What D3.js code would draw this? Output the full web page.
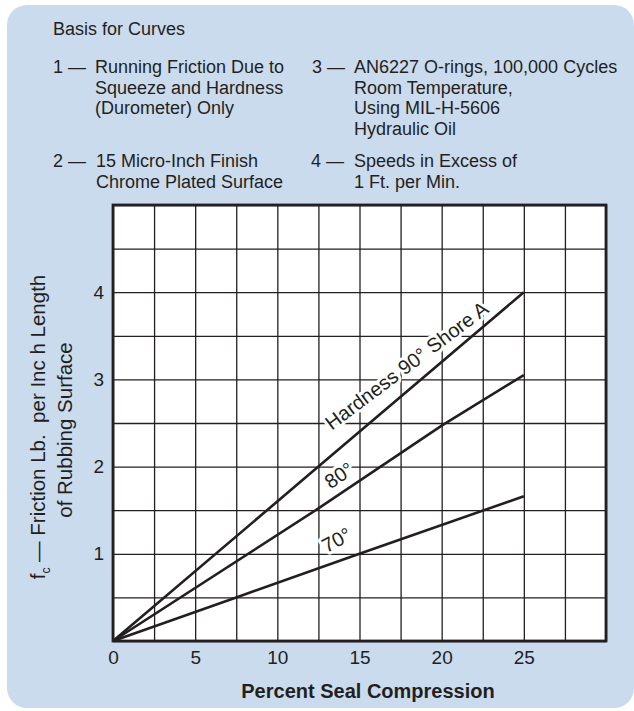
<!DOCTYPE html>
<html lang="en">
<head>
  <meta charset="UTF-8">
  <script src="https://d3js.org/d3.v7.min.js"></script>
  <title>Running Friction vs Percent Seal Compression</title>
  <style>
    body { margin: 0; background: #fff; }
    svg text { font-family: "Liberation Sans", Arial, sans-serif; fill: #231f20; }
  </style>
</head>
<body>
  <svg width="634" height="711"></svg>

  <script>
    // values
    const xTicks = [0, 5, 10, 15, 20, 25]
    const yTicks = [1, 2, 3, 4]
    const hardness90 = [[0, 0], [12.5, 2], [25, 4]]
    const hardness80 = [[0, 0], [12.5, 1.52], [20, 2.47], [25, 3.05]]
    const hardness70 = [[0, 0], [7.5, 0.5], [15, 1.0], [25, 1.66]]
    const curveLabels = ['Hardness 90° Shore A', '80°', '70°']

    const notesTitle = 'Basis for Curves'
    const noteNumbers = ['1 —', '3 —', '2 —', '4 —']
    const noteLines = [
      ['Running Friction Due to', 'Squeeze and Hardness', '(Durometer) Only'],
      ['AN6227 O-rings, 100,000 Cycles', 'Room Temperature,', 'Using MIL-H-5606', 'Hydraulic Oil'],
      ['15 Micro-Inch Finish', 'Chrome Plated Surface'],
      ['Speeds in Excess of', '1 Ft. per Min.']
    ]
    const xTitle = 'Percent Seal Compression'
    const yTitle1 = '— Friction Lb.  per Inc h Length'
    const yTitle2 = 'of Rubbing Surface'

    const INK = '#231f20'
    const PANEL = '#cbdbee'

    const svg = d3.select('svg')
    const plotL = 113, plotR = 606, plotT = 205, plotB = 641

    const x = d3.scaleLinear().domain([0, 30]).range([plotL, plotR])
    const y = d3.scaleLinear().domain([0, 5]).range([plotB, plotT])

    // background panel
    svg.append('rect')
      .attr('x', 7).attr('y', 5)
      .attr('width', 627).attr('height', 703)
      .attr('rx', 20)
      .attr('fill', PANEL)

    // notes block
    svg.append('text')
      .attr('x', 53).attr('y', 35)
      .style('font-size', '18px')
      .text(notesTitle)

    const notePos = [
      { nx: 53, tx: 95, y0: 73 },
      { nx: 312, tx: 354, y0: 73 },
      { nx: 53, tx: 96, y0: 167 },
      { nx: 311, tx: 354, y0: 167 }
    ]
    noteLines.forEach((lines, i) => {
      const p = notePos[i]
      svg.append('text')
        .attr('x', p.nx).attr('y', p.y0)
        .style('font-size', '18px')
        .text(noteNumbers[i])
      svg.append('text')
        .style('font-size', '18px')
        .selectAll('tspan')
        .data(lines)
        .join('tspan')
        .attr('x', p.tx)
        .attr('y', (d, j) => p.y0 + j * 20.7)
        .text(d => d)
    })

    // plot background
    svg.append('rect')
      .attr('x', plotL).attr('y', plotT)
      .attr('width', plotR - plotL).attr('height', plotB - plotT)
      .attr('fill', '#fff')

    // grid
    const xGrid = svg.append('g')
      .attr('transform', `translate(0,${plotB})`)
      .call(d3.axisBottom(x).tickValues(d3.range(0, 30.01, 2.5)).tickSize(-(plotB - plotT)).tickFormat(''))
    const yGrid = svg.append('g')
      .attr('transform', `translate(${plotL},0)`)
      .call(d3.axisLeft(y).tickValues(d3.range(0, 5.01, 0.5)).tickSize(-(plotR - plotL)).tickFormat(''))
    ;[xGrid, yGrid].forEach(g => {
      g.select('.domain').remove()
      g.selectAll('line').attr('stroke', INK).attr('stroke-width', 1.3)
    })

    const curves = [hardness90, hardness80, hardness70]

    // curve labels: white knock-out over the grid, curves drawn on top
    const labelPlace = [
      { at: 18.6, off: 13, angle: -37 },
      { at: 14.3, off: 9, angle: -34 },
      { at: 14.2, off: 14, angle: -28 }
    ]
    const along = (pts, xv) => d3.scaleLinear().domain(pts.map(d => d[0])).range(pts.map(d => d[1]))(xv)
    curveLabels.forEach((t, i) => {
      const p = labelPlace[i]
      const px = x(p.at), py = y(along(curves[i], p.at))
      svg.append('text')
        .attr('transform', `translate(${px},${py}) rotate(${p.angle})`)
        .attr('y', -p.off)
        .attr('text-anchor', 'middle')
        .style('font-size', '20px')
        .style('paint-order', 'stroke')
        .style('stroke', '#fff')
        .style('stroke-width', '6px')
        .style('stroke-linejoin', 'round')
        .text(t)
    })

    // curves
    const line = d3.line().x(d => x(d[0])).y(d => y(d[1]))
    curves.forEach(pts => {
      svg.append('path')
        .datum(pts)
        .attr('d', line)
        .attr('fill', 'none')
        .attr('stroke', INK)
        .attr('stroke-width', 2.6)
    })

    // frame
    svg.append('rect')
      .attr('x', plotL).attr('y', plotT)
      .attr('width', plotR - plotL).attr('height', plotB - plotT)
      .attr('fill', 'none')
      .attr('stroke', INK)
      .attr('stroke-width', 2.8)

    // tick labels
    const xAxis = svg.append('g')
      .attr('transform', `translate(0,${plotB})`)
      .call(d3.axisBottom(x).tickValues(xTicks).tickSize(0).tickPadding(10).tickFormat(d3.format('d')))
    const yAxis = svg.append('g')
      .attr('transform', `translate(${plotL},0)`)
      .call(d3.axisLeft(y).tickValues(yTicks).tickSize(0).tickPadding(9).tickFormat(d3.format('d')))
    ;[xAxis, yAxis].forEach(g => {
      g.select('.domain').remove()
      g.selectAll('text')
        .attr('fill', INK)
        .style('font-family', '"Liberation Sans", Arial, sans-serif')
        .style('font-size', '19px')
    })

    // axis titles
    svg.append('text')
      .attr('x', 368).attr('y', 698)
      .attr('text-anchor', 'middle')
      .style('font-size', '20px')
      .style('font-weight', 'bold')
      .text(xTitle)

    const yt = svg.append('text')
      .attr('transform', 'translate(45,427) rotate(-90)')
      .attr('text-anchor', 'middle')
      .style('font-size', '20.5px')
      .style('white-space', 'pre')
    yt.append('tspan').text('f')
    yt.append('tspan').attr('dy', 5).style('font-size', '12px').text('c')
    yt.append('tspan').attr('dy', -5).text(' ' + yTitle1)

    svg.append('text')
      .attr('transform', 'translate(72,430) rotate(-90)')
      .attr('text-anchor', 'middle')
      .style('font-size', '20.5px')
      .text(yTitle2)
  </script>
</body>
</html>
